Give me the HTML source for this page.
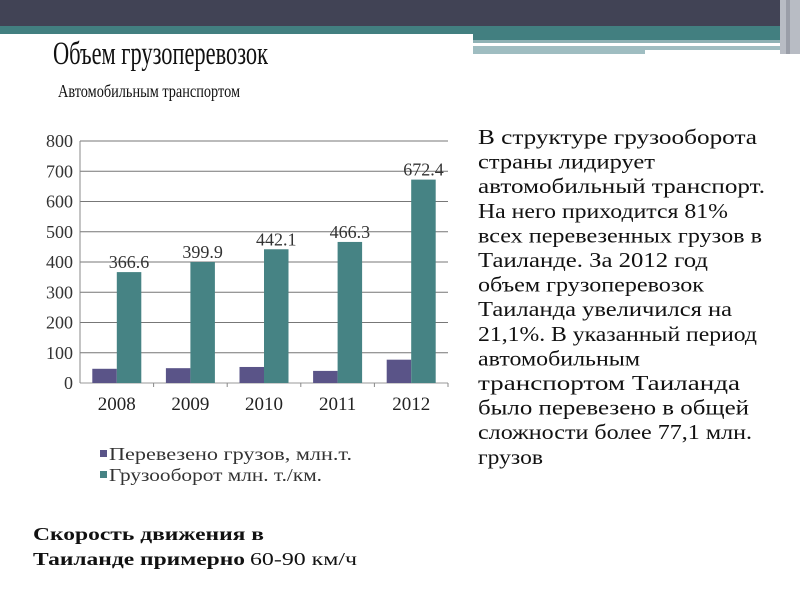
<!DOCTYPE html>
<html><head><meta charset="utf-8"><style>
html,body{margin:0;padding:0;background:#fff;}
svg{display:block;font-family:"Liberation Serif",serif;}
</style></head><body>
<svg id="s" width="800" height="600" viewBox="0 0 800 600" xmlns="http://www.w3.org/2000/svg">
<g>
<rect x="0" y="0" width="800" height="26" fill="#414355"/>
<rect x="0" y="26" width="790" height="8" fill="#427f80"/>
<rect x="473" y="26" width="317" height="14" fill="#427f80"/>
<rect x="473" y="40" width="317" height="3" fill="#8fb2b5"/>
<rect x="473" y="46" width="172" height="8" fill="#9fbdc1"/>
<rect x="645" y="46" width="135" height="4" fill="#9fbdc1"/>
<rect x="780" y="0" width="20" height="54" fill="#b8bcc4"/>
<rect x="786" y="0" width="4" height="54" fill="#9a9ea8"/>
</g>
<text x="53" y="64" font-size="33" textLength="215" lengthAdjust="spacingAndGlyphs" fill="#111">Объем грузоперевозок</text>
<text x="58" y="97" font-size="18" textLength="182" lengthAdjust="spacingAndGlyphs" fill="#111">Автомобильным транспортом</text>
<g id="chart"></g>
<g id="desc" font-size="21" fill="#111"></g>
<text x="33" y="540" font-size="18" font-weight="bold" textLength="231" lengthAdjust="spacingAndGlyphs" fill="#111">Скорость движения в</text>
<text y="565" font-size="18" fill="#111"><tspan x="33" font-weight="bold" textLength="212" lengthAdjust="spacingAndGlyphs">Таиланде примерно</tspan><tspan x="250" textLength="107" lengthAdjust="spacingAndGlyphs">60-90 км/ч</tspan></text>
</svg>
<script>
const categories = ["2008","2009","2010","2011","2012"];
const cargoValues = [47, 49, 53, 40, 77.1];
const turnoverValues = [366.6, 399.9, 442.1, 466.3, 672.4];
const turnoverLabels = ["366.6","399.9","442.1","466.3","672.4"];
const yTicks = [0,100,200,300,400,500,600,700,800];
const legendLabels = ["Перевезено грузов, млн.т.","Грузооборот млн. т./км."];
const descLines = ["В структуре грузооборота","страны лидирует","автомобильный транспорт.","На него приходится 81%","всех перевезенных грузов в","Таиланде. За 2012 год","объем грузоперевозок","Таиланда увеличился на","21,1%. В указанный период","автомобильным","транспортом Таиланда","было перевезено в общей","сложности более 77,1 млн.","грузов"];
const descWidths = [279,177,287,250,284,230,226,254,279,162,262,271,274,65];

const NS="http://www.w3.org/2000/svg";
const chart=document.getElementById('chart');
const L=80,R=448,T=141,B=383,YMAX=800;
const y=v=>B-(v/YMAX)*(B-T);
const bw=(R-L)/categories.length;
const x=i=>L+bw*i;
function mk(tag,attrs,parent){const e=document.createElementNS(NS,tag);for(const k in attrs)e.setAttribute(k,attrs[k]);parent.appendChild(e);return e;}
yTicks.forEach(t=>{
  const g=mk('line',{x1:L,x2:R,y1:y(t),y2:y(t),stroke:t===0?'#999':'#777','stroke-width':1},chart);
  
  
  const tx=mk('text',{x:73,y:y(t)+6,'text-anchor':'end','font-size':18,fill:'#333'},chart);
  tx.textContent=t;
  
  
});
const ax=mk('line',{x1:L,x2:L,y1:T,y2:B,stroke:'#888'},chart);


categories.forEach((c,i)=>{
  const cx=x(i)+bw/2, w=24.5;
  const r1=mk('rect',{x:cx-w,y:y(cargoValues[i]),width:w,height:B-y(cargoValues[i]),fill:'#5a5488'},chart);
  
  
  const r2=mk('rect',{x:cx,y:y(turnoverValues[i]),width:w,height:B-y(turnoverValues[i]),fill:'#468384'},chart);
  
  
  const lb=mk('text',{x:cx+w/2,y:y(turnoverValues[i])-4,'text-anchor':'middle','font-size':18,fill:'#333'},chart);
  lb.textContent=turnoverLabels[i];
  
  
  const xl=mk('text',{x:cx,y:410,'text-anchor':'middle','font-size':19,fill:'#222'},chart);
  xl.textContent=c;
  
  
  const tk=mk('line',{x1:x(i+1),x2:x(i+1),y1:B,y2:B+4,stroke:'#888'},chart);
  
  
});
const cols=['#5a5488','#468384'];
legendLabels.forEach((t,i)=>{
  const yy=455+i*21;
  const sw=mk('rect',{x:100,y:yy-5,width:7,height:7,fill:cols[i]},chart);
  
  
  const tx=mk('text',{x:109,y:yy+5,'font-size':18,fill:'#333',textLength:i?213:243,lengthAdjust:'spacingAndGlyphs'},chart);
  tx.textContent=t;
  
  
});
const desc=document.getElementById('desc');
descLines.forEach((t,i)=>{
  const tx=mk('text',{x:478,y:144+i*24.6,textLength:descWidths[i],lengthAdjust:'spacingAndGlyphs'},desc);
  tx.textContent=t;
  
  
});
</script>
</body></html>
